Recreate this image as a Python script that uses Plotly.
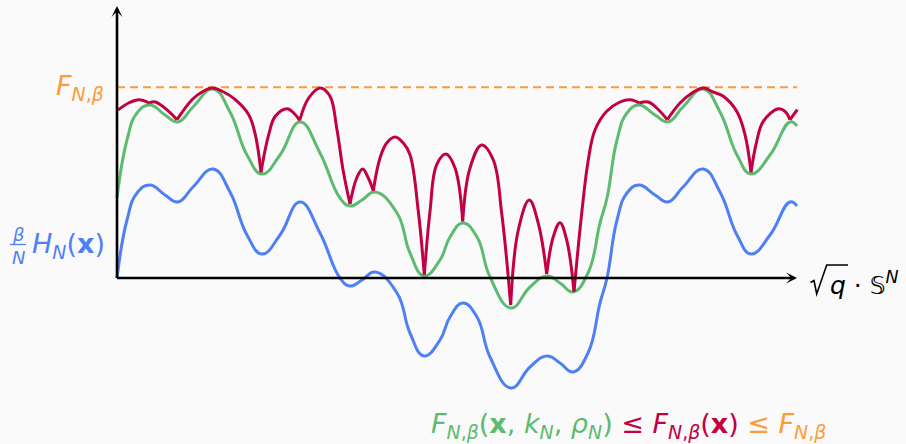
import plotly.graph_objects as go

# ---- data (schematic units: x along the sphere, y = value) ----
blue_x = [0, 10, 20, 33, 48, 61, 76, 96, 113, 130, 145, 163, 183, 203, 223, 233, 245, 258, 280, 293,
          307, 323, 333, 346, 360, 373, 394, 413, 430, 443, 456, 471, 483, 490, 500, 510, 522, 538,
          551, 566, 586, 603, 620, 634, 653, 673, 680]
blue_y = [0, 58, 85, 93, 83, 76, 91, 109, 86, 43, 24, 43, 76, 45, 0, -8, -2, 6, -15, -55,
          -78, -62, -39, -25, -39, -79, -110, -89, -78, -85, -94, -75, -25, 0, 58, 85, 93, 83,
          76, 91, 109, 86, 43, 24, 43, 76, 72]

green_x = blue_x
green_y = [80, 138, 165, 173, 163, 156, 171, 189, 166, 123, 104, 123, 156, 125, 80, 72, 78, 86, 65, 25,
           2, 18, 41, 55, 41, 1, -30, -9, 2, -5, -14, 5, 55, 80, 138, 165, 173, 163,
           156, 171, 189, 166, 123, 104, 123, 156, 152]

# red curve: arcs between cusps
red_arcs_x = [
    [1, 11.7, 21.7, 32.3],
    [32.3, 38.3, 51.7, 60],
    [60, 75, 85, 95, 106.7, 118.3, 131.7, 138.3, 144],
    [144, 151.7, 158.3, 170, 176.7, 182.7],
    [182.7, 191.7, 203.3, 213, 219.7, 226.3, 233],
    [233, 239.7, 245.7, 251.3, 256.3],
    [256.3, 263, 269.7, 278, 286.3, 293, 301.3, 307.3],
    [307.3, 313, 319.7, 329, 338, 345.7],
    [345.7, 353, 364.7, 376.3, 384.7, 393.7],
    [393.7, 401.3, 412.3, 421.3, 429.7],
    [429.7, 436.3, 443, 449.7, 457],
    [457, 464.7, 471.3, 478, 489.7, 503, 513, 522.3],
    [522.3, 531.3, 539.7, 550.3],
    [550.3, 563, 575, 586.3, 596, 606.3, 619.7, 628, 634],
    [634, 639.7, 646.3, 661.3, 668, 673],
    [673, 680.3],
]
red_arcs_y = [
    [168, 175, 178.3, 175],
    [175, 176, 166.7, 158.3],
    [158.3, 178.3, 186, 190, 186, 178.3, 163.3, 143.3, 105.7],
    [105.7, 143.3, 161.7, 169.3, 165, 157.7],
    [157.7, 180, 190, 181.7, 150, 106.7, 74],
    [74, 100, 109, 100, 87.3],
    [87.3, 120, 135, 141, 135, 123.3, 66.7, 3.3],
    [3.3, 66.7, 113.3, 124, 110, 56.7],
    [56.7, 110, 133, 118, 64.7, -27],
    [-27, 48, 78, 54.7, 4],
    [4, 41.3, 55.3, 38, -13.7],
    [-13.7, 64.7, 118, 148, 166.7, 176, 178.3, 175],
    [175, 176, 170, 158.3],
    [158.3, 175, 185, 190, 186, 181.7, 166.7, 143.3, 105.7],
    [105.7, 136.7, 156.7, 169.3, 166.7, 158.3],
    [158.3, 168.3],
]

upper_bound = 190.7
x_end = 680

BLUE = "#4f7ff5"
GREEN = "#5dbb6f"
RED = "#c20042"
ORANGE = "#ff9a3a"
FONT = "DejaVu Sans"

red_x, red_y = [], []
for ax_, ay_ in zip(red_arcs_x, red_arcs_y):
    red_x += ax_ + [None]
    red_y += ay_ + [None]

fig = go.Figure()
fig.add_trace(go.Scatter(x=[0, x_end], y=[upper_bound, upper_bound], mode="lines",
                         line=dict(color=ORANGE, width=2, dash="8px,5px"), hoverinfo="skip"))
fig.add_trace(go.Scatter(x=blue_x, y=blue_y, mode="lines",
                         line=dict(color=BLUE, width=3, shape="spline", smoothing=1.3), hoverinfo="skip"))
fig.add_trace(go.Scatter(x=green_x, y=green_y, mode="lines",
                         line=dict(color=GREEN, width=3, shape="spline", smoothing=1.3), hoverinfo="skip"))
fig.add_trace(go.Scatter(x=red_x, y=red_y, mode="lines", connectgaps=False,
                         line=dict(color=RED, width=3, shape="spline", smoothing=1.1), hoverinfo="skip"))

ann = []
# axes arrows
ann.append(dict(x=0, y=272, ax=0, ay=-1.5, xref="x", yref="y", axref="x", ayref="y", text="",
                showarrow=True, arrowhead=3, arrowsize=0.7, arrowwidth=2.6, arrowcolor="black"))
ann.append(dict(x=680, y=0, ax=-1.5, ay=0, xref="x", yref="y", axref="x", ayref="y", text="",
                showarrow=True, arrowhead=3, arrowsize=0.7, arrowwidth=2.6, arrowcolor="black"))

# labels
ann.append(dict(x=-11, y=191, xref="x", yref="y", xanchor="right", yanchor="middle", showarrow=False,
                text="<i>F</i><sub><i>N</i>,<i>β</i></sub>", font=dict(family=FONT, size=27, color=ORANGE)))
ann.append(dict(x=-99, y=44, xref="x", yref="y", xanchor="center", yanchor="middle", showarrow=False,
                text="<i>β</i>", font=dict(family=FONT, size=18, color=BLUE)))
ann.append(dict(x=-99, y=21, xref="x", yref="y", xanchor="center", yanchor="middle", showarrow=False,
                text="<i>N</i>", font=dict(family=FONT, size=18, color=BLUE)))
ann.append(dict(x=-87, y=33, xref="x", yref="y", xanchor="left", yanchor="middle", showarrow=False,
                text="<i>H</i><sub><i>N</i></sub>(<b>x</b>)", font=dict(family=FONT, size=27, color=BLUE)))
ann.append(dict(x=711, y=-5, xref="x", yref="y", xanchor="left", yanchor="middle", showarrow=False,
                text="<i>q</i> · 𝕊<sup><i>N</i></sup>", font=dict(family=FONT, size=25, color="black")))
ann.append(dict(x=511, y=-147, xref="x", yref="y", xanchor="center", yanchor="middle", showarrow=False,
                text=(f'<span style="color:{GREEN}"><i>F</i><sub><i>N</i>,<i>β</i></sub>(<b>x</b>, '
                      f'<i>k</i><sub><i>N</i></sub>, <i>ρ</i><sub><i>N</i></sub>)</span> '
                      f'<span style="color:{RED}">≤ <i>F</i><sub><i>N</i>,<i>β</i></sub>(<b>x</b>)</span> '
                      f'<span style="color:{ORANGE}">≤ <i>F</i><sub><i>N</i>,<i>β</i></sub></span>'),
                font=dict(family=FONT, size=27, color=GREEN)))

shapes = [
    dict(type="line", xref="x", yref="y", x0=-107, x1=-91, y0=33.5, y1=33.5,
         line=dict(color=BLUE, width=1.3)),
    # square-root sign
    dict(type="path", xref="x", yref="y", path="M 693.5,-4.5 L 697,-2.5 L 699.7,-16 L 709.7,13 L 731,13",
         line=dict(color="black", width=1.6)),
]

fig.update_layout(
    width=906, height=444, margin=dict(l=0, r=0, t=0, b=0),
    paper_bgcolor="#fafafa", plot_bgcolor="#fafafa",
    xaxis=dict(range=[-117, 789], visible=False, fixedrange=True),
    yaxis=dict(range=[-166, 278], visible=False, fixedrange=True),
    showlegend=False, annotations=ann, shapes=shapes,
)
fig.write_html("out.html", config={"displayModeBar": False},
               post_script="document.body.style.margin='0px';document.body.style.background='#fafafa';")
